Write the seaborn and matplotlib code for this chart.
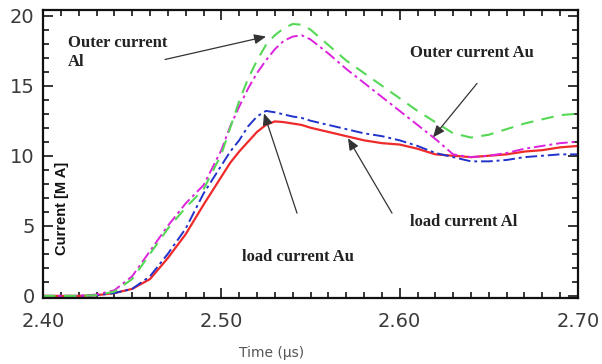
import matplotlib
matplotlib.use("Agg")
import matplotlib.pyplot as plt
import seaborn as sns
import pandas as pd
from matplotlib.ticker import MultipleLocator

# ---- data ----
t = [2.40, 2.42, 2.43, 2.44, 2.45, 2.46, 2.47, 2.48, 2.49, 2.50, 2.505, 2.51,
     2.515, 2.52, 2.525, 2.53, 2.535, 2.54, 2.545, 2.55, 2.56, 2.57, 2.58, 2.59,
     2.60, 2.61, 2.62, 2.63, 2.64, 2.65, 2.66, 2.67, 2.68, 2.69, 2.70]

outer_al = [0.0, 0.0, 0.05, 0.3, 1.2, 3.0, 4.8, 6.3, 7.6, 10.1, 12.0, 13.9,
            15.5, 16.8, 17.9, 18.6, 19.1, 19.4, 19.35, 19.0, 17.9, 16.8, 15.9, 15.0,
            14.1, 13.2, 12.4, 11.6, 11.3, 11.5, 11.9, 12.3, 12.6, 12.9, 13.0]

outer_au = [0.0, 0.0, 0.1, 0.4, 1.4, 3.2, 5.0, 6.6, 7.9, 10.4, 12.1, 13.5,
            14.8, 15.9, 16.8, 17.6, 18.2, 18.5, 18.6, 18.3, 17.3, 16.2, 15.2, 14.2,
            13.2, 12.2, 11.2, 10.1, 9.9, 10.0, 10.2, 10.5, 10.7, 10.9, 11.0]

load_au = [0.0, 0.0, 0.05, 0.2, 0.5, 1.4, 3.0, 4.8, 7.3, 9.3, 10.3, 11.1,
           12.1, 12.8, 13.2, 13.1, 12.95, 12.8, 12.7, 12.5, 12.2, 11.9, 11.6, 11.4,
           11.1, 10.7, 10.2, 9.9, 9.6, 9.6, 9.7, 9.9, 10.0, 10.1, 10.1]

load_al = [0.0, 0.0, 0.05, 0.2, 0.5, 1.2, 2.7, 4.4, 6.5, 8.5, 9.5, 10.3,
           11.0, 11.7, 12.2, 12.45, 12.4, 12.3, 12.2, 12.0, 11.7, 11.4, 11.1, 10.9,
           10.8, 10.5, 10.1, 10.0, 9.9, 10.0, 10.1, 10.3, 10.4, 10.6, 10.7]

x_ticks = [2.40, 2.50, 2.60, 2.70]
x_tick_labels = ["2.40", "2.50", "2.60", "2.70"]
y_ticks = [0, 5, 10, 15, 20]

# ---- figure ----
sns.set_style("ticks")
plt.rcParams["font.family"] = ["DejaVu Sans"]
plt.rcParams["xtick.top"] = True
plt.rcParams["ytick.right"] = True
plt.rcParams["xtick.minor.visible"] = True
plt.rcParams["ytick.minor.visible"] = True

fig = plt.figure(figsize=(6.02, 3.64), dpi=100)
ax = fig.add_axes([43 / 602, 1 - 298 / 364, (578 - 43) / 602, (298 - 10) / 364])

df = pd.DataFrame({"t": t, "outer_al": outer_al, "outer_au": outer_au,
                   "load_au": load_au, "load_al": load_al})

sns.lineplot(data=df, x="t", y="load_al", ax=ax, color="#ee2a2a", lw=1.6)
sns.lineplot(data=df, x="t", y="load_au", ax=ax, color="#2233cc", lw=1.4)
ax.lines[-1].set_dashes([6, 2, 1.5, 2])
sns.lineplot(data=df, x="t", y="outer_au", ax=ax, color="#dd22dd", lw=1.4)
ax.lines[-1].set_dashes([6, 2, 1.5, 2])
sns.lineplot(data=df, x="t", y="outer_al", ax=ax, color="#55d855", lw=1.5)
ax.lines[-1].set_dashes([6, 4])

ax.set_xlim(2.40, 2.70)
ax.set_ylim(-0.15, 20.4)
ax.set_xticks(x_ticks)
ax.set_xticklabels(x_tick_labels)
ax.set_yticks(y_ticks)
ax.xaxis.set_minor_locator(MultipleLocator(0.01))
ax.yaxis.set_minor_locator(MultipleLocator(1))
ax.tick_params(which="both", direction="in", top=True, right=True,
               bottom=True, left=True, color="#000", width=1.1)
ax.tick_params(which="major", length=7)
ax.tick_params(which="minor", length=4)
ax.tick_params(axis="x", which="major", pad=10, labelsize=14, labelcolor="#3a3a3a")
ax.tick_params(axis="y", which="major", pad=6, labelsize=14, labelcolor="#3a3a3a")
for s in ax.spines.values():
    s.set_linewidth(1.6)
    s.set_color("#111")
    s.set_zorder(5)
ax.set_xlabel("")
ax.set_ylabel("")

# axis labels
fig.text(272 / 602, 1 - 353 / 364, "Time (\u00b5s)", ha="center", va="center",
         fontsize=10, color="#555")
fig.text(62 / 602, 1 - 208 / 364, "Current [M A]", rotation=90, ha="center",
         va="center", fontsize=10.5, fontweight="bold", color="#111",
         family=["Liberation Sans", "DejaVu Sans"])

# annotations
def px(x, y):
    return (2.40 + (x - 43) / 535 * 0.30, (296 - y) / 14.05)

afont = dict(family=["Liberation Serif", "DejaVu Serif"], fontweight="bold",
             fontsize=12, color="#222")
aprops = dict(arrowstyle="-|>,head_length=0.7,head_width=0.3", color="#333",
              lw=0.9, shrinkA=0, shrinkB=0)

ax.text(*px(68, 42), "Outer current", ha="left", va="center", **afont)
ax.text(*px(68, 62), "Al", ha="left", va="center", **afont)
ax.annotate("", xy=px(266, 36), xytext=px(165, 59), arrowprops=aprops)

ax.text(*px(472, 52), "Outer current Au", ha="center", va="center", **afont)
ax.annotate("", xy=px(433, 137), xytext=px(477, 83), arrowprops=aprops)

ax.text(*px(464, 222), "load current Al", ha="center", va="center", **afont)
ax.annotate("", xy=px(348, 138), xytext=px(392, 213), arrowprops=aprops)

ax.text(*px(298, 257), "load current Au", ha="center", va="center", **afont)
ax.annotate("", xy=px(264, 113), xytext=px(297, 213), arrowprops=aprops)

fig.savefig("out.png", dpi=100)
